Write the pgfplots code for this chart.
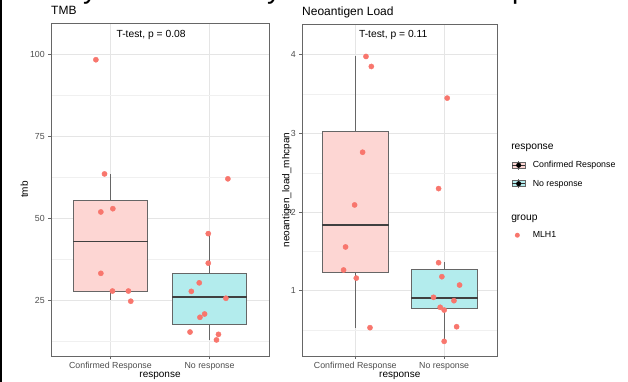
\documentclass[border=0pt]{standalone}
\usepackage{pgfplots}
\pgfplotsset{compat=1.18}
\usepgfplotslibrary{statistics}
\usepackage{fontspec}
\setmainfont{Liberation Sans}
\definecolor{salmon}{HTML}{F8766D}
\definecolor{pinkfill}{HTML}{FDD6D3}
\definecolor{cyanfill}{HTML}{B3ECED}
\definecolor{ticktext}{HTML}{4D4D4D}
\pgfplotsset{
  every axis title shift=0pt,
  ggbox/.style={
    scale only axis,
    anchor=south west,
    xmin=0.4, xmax=2.6,
    xtick={1,2},
    xticklabels={Confirmed Response, No response},
    tick pos=left,
    tick align=outside,
    major tick length=2.75pt,
    minor tick length=0pt,
    tick style={black!60, line width=0.5pt},
    axis line style={black!60, line width=0.6pt},
    grid=both,
    major grid style={black!10, line width=0.5pt},
    minor grid style={black!6, line width=0.3pt},
    tick label style={font=\fontsize{8.8}{10}\selectfont, text=ticktext},
    /pgf/number format/assume math mode=true,
    label style={font=\fontsize{10}{12}\selectfont},
    title style={font=\fontsize{12}{14}\selectfont, at={(axis description cs:0,1)}, anchor=base west, yshift=8pt, inner sep=0pt},
    xlabel={response},
    boxplot/draw direction=y,
    boxplot/whisker extend=0,
    boxplot/box extend=0.75,
    boxplot/every median/.style={line width=1.8pt, draw=black!75},
  },
  boxA/.style={draw=black!60, line width=0.7pt, fill=pinkfill, forget plot},
  boxB/.style={draw=black!60, line width=0.7pt, fill=cyanfill, forget plot},
  pts/.style={only marks, mark=*, mark size=2.6pt, color=salmon, mark options={draw=salmon, fill=salmon}, forget plot},
}
\begin{document}
\begin{tikzpicture}[x=1pt,y=1pt]
% left frame line of the screenshot
\fill[black] (0,0) rectangle (2.3,382);
% cropped heading (only descenders visible)
\node[anchor=base west, inner sep=0pt, font=\fontsize{28}{30}\selectfont] at (83,383) {y};
\node[anchor=base west, inner sep=0pt, font=\fontsize{28}{30}\selectfont] at (267,383) {y};
\node[anchor=base west, inner sep=0pt, font=\fontsize{28}{30}\selectfont] at (512,383) {p};

\begin{axis}[ggbox,
  at={(51pt,26pt)},
  width=218pt, height=333pt,
  ymin=8, ymax=109.5,
  ytick={25,50,75,100},
  minor ytick={12.5,37.5,62.5,87.5},
  title={TMB},
  ylabel={tmb},
  xlabel style={at={(axis description cs:0.5,-0.06)}, anchor=center},
  ylabel style={at={(axis description cs:-0.122,0.5)}, anchor=center},
]
\addplot[boxA, boxplot prepared={draw position=1, lower whisker=25.0, lower quartile=27.6, median=42.9, upper quartile=55.5, upper whisker=63.6}] coordinates {};
\addplot[boxB, boxplot prepared={draw position=2, lower whisker=13.0, lower quartile=17.7, median=25.9, upper quartile=33.2, upper whisker=45.3}] coordinates {};
\addplot[pts] coordinates {
(0.853,98.3) (0.940,63.5) (0.903,51.9) (1.024,52.9) (0.903,33.2) (1.020,27.8) (1.181,27.8) (1.205,24.7)
};
\addplot[pts] coordinates {
(2.185,62.0) (1.987,45.3) (1.987,36.3) (1.896,30.3) (1.816,27.7) (2.165,25.6) (1.950,20.8) (1.903,19.8) (1.803,15.3) (2.090,14.6) (2.070,12.9)
};
\node[font=\fontsize{10.3}{12}\selectfont] at (axis cs:1.41,106) {T-test, p = 0.08};
\end{axis}

\begin{axis}[ggbox,
  at={(302pt,26pt)},
  width=195.5pt, height=332pt,
  ymin=0.17, ymax=4.39,
  ytick={1,2,3,4},
  minor ytick={0.5,1.5,2.5,3.5},
  title={Neoantigen Load},
  ylabel={neoantigen\_load\_mhcpan},
  xlabel style={at={(axis description cs:0.5,-0.06)}, anchor=center},
  ylabel style={at={(axis description cs:-0.078,0.5)}, anchor=center},
  legend style={draw=none, fill=none, at={(axis description cs:1.056,0.647)}, anchor=north west,
    font=\fontsize{8.8}{10}\selectfont,
    nodes={inner sep=0pt, text height=6.5pt, text depth=1.8pt},
    row sep=8.6pt,
    /tikz/every odd column/.append style={column sep=7pt}},
  legend cell align=left,
]
\addplot[boxA, boxplot prepared={draw position=1, lower whisker=0.53, lower quartile=1.234, median=1.83, upper quartile=3.025, upper whisker=3.98}] coordinates {};
\addplot[boxB, boxplot prepared={draw position=2, lower whisker=0.364, lower quartile=0.776, median=0.91, upper quartile=1.27, upper whisker=1.36}] coordinates {};
\addplot[pts] coordinates {
(1.120,3.977) (1.180,3.85) (1.082,2.76) (0.992,2.09) (0.890,1.556) (0.868,1.263) (1.011,1.16) (1.165,0.53)
};
\addplot[pts] coordinates {
(2.034,3.448) (1.937,2.298) (1.937,1.356) (1.974,1.178) (2.173,1.072) (1.880,0.916) (2.110,0.873) (1.955,0.789) (2.000,0.754) (2.140,0.542) (2.000,0.356)
};
\node[font=\fontsize{10.3}{12}\selectfont] at (axis cs:1.426,4.25) {T-test, p = 0.11};

\addlegendimage{empty legend}
\addlegendentry{\hspace*{-21.5pt}\fontsize{10.3}{12}\selectfont response}
\addlegendimage{legend image code/.code={
  \draw[draw=black!60, fill=pinkfill, line width=0.5pt] (0pt,-3pt) rectangle (13.3pt,3pt);
  \draw[black!60, line width=0.5pt] (6.65pt,-4.7pt) -- (6.65pt,4.7pt);
  \draw[black!80, line width=0.8pt] (0pt,0pt) -- (13.3pt,0pt);
  \fill[black] (6.65pt,0pt) circle (2.3pt);}}
\addlegendentry{Confirmed Response}
\addlegendimage{legend image code/.code={
  \draw[draw=black!60, fill=cyanfill, line width=0.5pt] (0pt,-3pt) rectangle (13.3pt,3pt);
  \draw[black!60, line width=0.5pt] (6.65pt,-4.7pt) -- (6.65pt,4.7pt);
  \draw[black!80, line width=0.8pt] (0pt,0pt) -- (13.3pt,0pt);
  \fill[black] (6.65pt,0pt) circle (2.3pt);}}
\addlegendentry{No response}
\addlegendimage{empty legend}
\addlegendentry{}
\addlegendimage{empty legend}
\addlegendentry{\hspace*{-21.5pt}\fontsize{10.3}{12}\selectfont group}
\addlegendimage{legend image code/.code={
  \path[draw=none, fill=none] (0pt,0pt) -- (13.3pt,0pt);
  \fill[salmon, draw=none] (5.3pt,0pt) circle (2.5pt);}}
\addlegendentry{MLH1}
\end{axis}
\pgfresetboundingbox
\useasboundingbox (0,0) rectangle (628,382);
\end{tikzpicture}
\end{document}
